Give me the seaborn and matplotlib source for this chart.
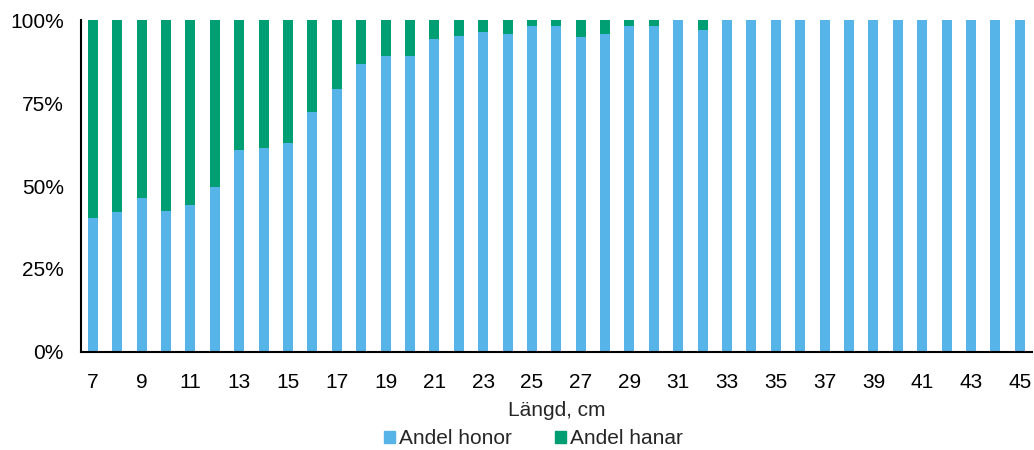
import numpy as np
import pandas as pd
import matplotlib
matplotlib.use("Agg")
import matplotlib.pyplot as plt
import seaborn as sns
from matplotlib.patches import Patch
from matplotlib.ticker import PercentFormatter

# --- data: share of females / males per length class
langd = list(range(7, 46))
andel_honor = [40.4, 42.3, 46.5, 42.6, 44.4, 49.8, 61.0, 61.5, 63.1, 72.2,
               79.4, 86.7, 89.1, 89.1, 94.3, 95.2, 96.4, 96.0, 98.2, 98.2,
               95.1, 95.8, 98.2, 98.3, 100, 97.1, 100, 100, 100, 100,
               100, 100, 100, 100, 100, 100, 100, 100, 100]
andel_hanar = [100 - v for v in andel_honor]

blue = "#56B4E9"
green = "#009E73"

df = pd.DataFrame({"langd": [str(x) for x in langd],
                   "honor": andel_honor,
                   "hanar": andel_hanar})
df["total"] = df["honor"] + df["hanar"]

sns.set_style("white")
plt.rcParams["font.family"] = ["Liberation Sans", "DejaVu Sans"]
fs = 15

fig, ax = plt.subplots(figsize=(10.34, 4.5), dpi=100)

# stacked bars: total (green) underneath, females (blue) on top
sns.barplot(data=df, x="langd", y="total", color=green, width=0.41,
            saturation=1, linewidth=0, ax=ax)
sns.barplot(data=df, x="langd", y="honor", color=blue, width=0.41,
            saturation=1, linewidth=0, ax=ax)

ax.set_xlim(-0.5, len(langd) - 0.5)
ax.set_ylim(0, 100)
ax.set_yticks([0, 25, 50, 75, 100])
ax.yaxis.set_major_formatter(PercentFormatter(decimals=0))
ax.set_xticks(range(0, len(langd), 2))
ax.set_xticklabels([str(x) for x in langd[::2]])

ax.tick_params(axis="both", length=0, labelsize=fs, colors="black")
ax.tick_params(axis="y", pad=12)
ax.tick_params(axis="x", pad=15)
ax.set_xlabel("Längd, cm", fontsize=fs, labelpad=7)
ax.set_ylabel("")

for s in ["top", "right"]:
    ax.spines[s].set_visible(False)
for s in ["left", "bottom"]:
    ax.spines[s].set_color("black")
    ax.spines[s].set_linewidth(1.5)

handles = [Patch(color=blue, label="Andel honor"),
           Patch(color=green, label="Andel hanar")]
fig.legend(handles=handles, loc="center", ncol=2, frameon=False,
           fontsize=fs, handlelength=0.5, handleheight=0.5,
           handletextpad=0.2, columnspacing=2.1, borderpad=0,
           bbox_to_anchor=(0.516, 0.025))

plt.subplots_adjust(left=0.078, right=0.998, top=0.955, bottom=0.218)
plt.savefig("out.png", dpi=100)
